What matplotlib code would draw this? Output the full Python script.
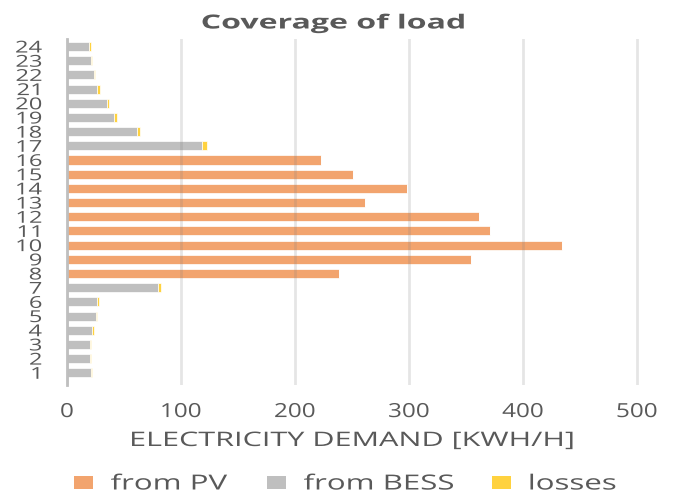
import matplotlib
matplotlib.use("Agg")
import matplotlib.pyplot as plt
from matplotlib.patheffects import AbstractPathEffect
from matplotlib.patches import Patch
from matplotlib.transforms import Affine2D
import numpy as np

hours = [str(h) for h in range(1, 25)]
from_pv = [0, 0, 0, 0, 0, 0, 0, 239, 354, 434, 371, 361, 261, 298, 251, 223,
           0, 0, 0, 0, 0, 0, 0, 0]
from_bess = [21, 20.2, 20.2, 21.9, 25.2, 26.4, 79.5, 0, 0, 0, 0, 0, 0, 0, 0, 0,
             118, 61.5, 41.5, 35.4, 26.3, 23.4, 21, 19.5]
losses = [1, 1.1, 0.8, 1.5, 1.1, 1.4, 3.2, 0, 0, 0, 0, 0, 0, 0, 0, 0,
          4.5, 2.8, 2.4, 1.1, 2.3, 1.1, 1.3, 1.5]
x_ticks = [0, 100, 200, 300, 400, 500]
series_names = ["from PV", "from BESS", "losses"]

c_pv = "#F2A46E"
c_bess = "#BFBFBF"
c_loss = "#FFD23F"
txt = "#595959"


class WideText(AbstractPathEffect):
    """Draw text glyphs widened horizontally about a chosen anchor."""

    def __init__(self, sx, anchor="center"):
        super().__init__()
        self.sx = sx
        self.anchor = anchor

    def draw_path(self, renderer, gc, tpath, affine, rgbFace=None):
        ext = tpath.get_extents(affine)
        if self.anchor == "left":
            x0 = ext.x0
        elif self.anchor == "right":
            x0 = ext.x1
        else:
            x0 = 0.5 * (ext.x0 + ext.x1)
        widen = Affine2D().translate(-x0, 0).scale(self.sx, 1).translate(x0, 0)
        renderer.draw_path(gc, tpath, affine + widen, rgbFace)


plt.rcParams["font.family"] = ["Open Sans", "DejaVu Sans"]

W, H = 676, 495
fig = plt.figure(figsize=(W / 100, H / 100), dpi=100)
x_left, x_right = 67, 640.4
y_top, y_bot = 39, 385
ax = fig.add_axes([x_left / W, 1 - y_bot / H, (x_right - x_left) / W, (y_bot - y_top) / H])

y = np.arange(1, 25)
pv = np.array(from_pv)
bess = np.array(from_bess)
loss = np.array(losses)
h = 0.64
kw = dict(height=h, edgecolor="white", linewidth=0.5)
ax.barh(y, pv, color=c_pv, **kw)
ax.barh(y, bess, left=pv, color=c_bess, **kw)
ax.barh(y, loss, left=pv + bess, color=c_loss, **kw)

ax.set_xlim(0, 503)
ax.set_ylim(0.14, 24.53)
ax.set_yticks(y)
ax.set_yticklabels(hours)
ax.set_xticks(x_ticks)
ax.xaxis.grid(True, color="#808080", alpha=0.2, linewidth=2)
ax.set_axisbelow(False)
for s in ["top", "right", "bottom"]:
    ax.spines[s].set_visible(False)
ax.spines["left"].set_color("#BFBFBF")
ax.spines["left"].set_linewidth(2)
ax.spines["left"].set_zorder(5)
ax.tick_params(axis="both", length=0, colors=txt)
ax.tick_params(axis="y", labelsize=11.8, pad=18)
ax.tick_params(axis="x", labelsize=14, pad=13)
for lbl in ax.get_yticklabels():
    lbl.set_path_effects([WideText(1.45, "right")])
for lbl in ax.get_xticklabels():
    lbl.set_path_effects([WideText(1.25, "center")])

fig.text(352.5 / W, 1 - 446 / H, "ELECTRICITY DEMAND [KWH/H]", fontsize=14.4,
         color=txt, ha="center", va="baseline",
         path_effects=[WideText(1.53, "center")])
fig.text(334 / W, 1 - 28.5 / H, "Coverage of load", fontsize=14,
         fontweight="bold", color=txt, ha="center", va="baseline",
         path_effects=[WideText(1.65, "center")])

# one legend box per series, laid out along the bottom edge
leg_fs = 15
fs_px = leg_fs * 100 / 72
marker_x = [74, 267, 492]
for name, col, mx in zip(series_names, [c_pv, c_bess, c_loss], marker_x):
    leg = fig.legend(handles=[Patch(facecolor=col, edgecolor="none", label=name)],
                     loc="center left", bbox_to_anchor=(mx / W, 1 - 484 / H),
                     frameon=False, fontsize=leg_fs, borderpad=0, borderaxespad=0,
                     handlelength=19 / fs_px, handleheight=12 / fs_px,
                     handletextpad=0.85)
    for t in leg.get_texts():
        t.set_color(txt)
        t.set_path_effects([WideText(1.5, "left")])

fig.savefig("out.png", dpi=100)
